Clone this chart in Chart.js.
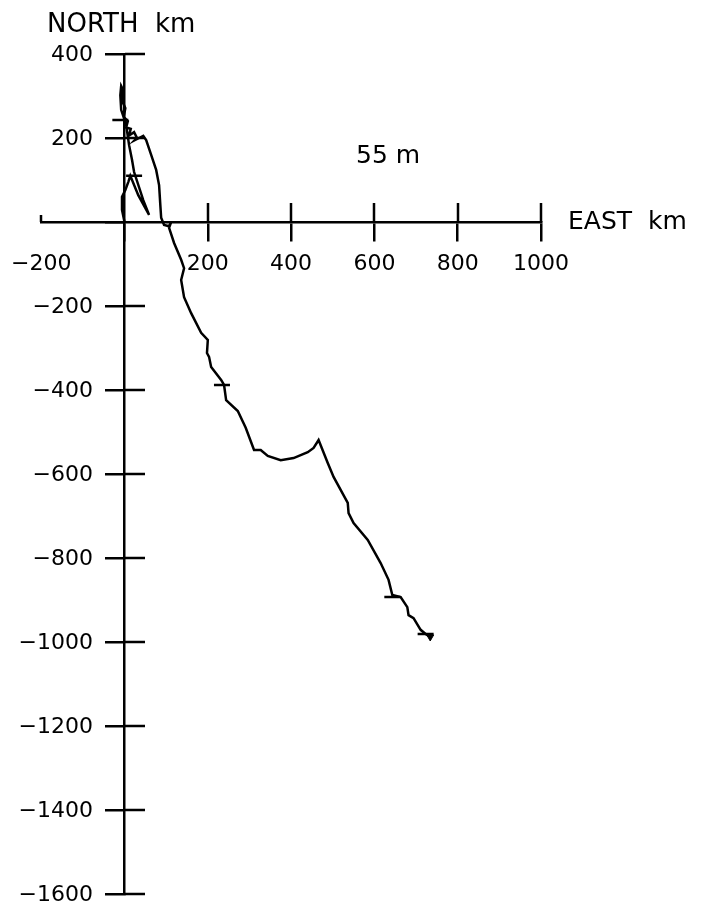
<!DOCTYPE html>
<html>
<head>
<meta charset="utf-8">
<script src="https://cdn.jsdelivr.net/npm/chart.js@4/dist/chart.umd.min.js"></script>
<style>
  html, body { margin: 0; padding: 0; background: #fff; }
  canvas { display: block; }
</style>
</head>
<body>
<canvas id="pvd" width="701" height="910"></canvas>
<script>
// progressive vector track, km from the start point
const eastKm = [
    0, -6, -6, 2, 9, 14, 33, 59, 45, 23, 18, 11, 4, -8, -10, -8, -3, -6, 2, -2,
    8, 4, 15, 11, 23, 30, 25, 35, 45, 52, 64, 76, 83, 86, 88, 95, 107, 112, 107, 119,
    136, 143, 136, 143, 160, 184, 200, 198, 203, 208, 232, 239, 244, 272, 291, 311, 327, 344, 375, 406,
    423, 440, 454, 466, 488, 502, 536, 538, 550, 584, 615, 634, 643, 663, 679, 682, 694, 711, 723, 734
];
const northKm = [
    0, 29, 60, 76, 95, 110, 64, 17, 52, 119, 148, 183, 231, 267, 302, 324, 314, 290, 271, 250,
    240, 225, 222, 206, 214, 200, 195, 200, 205, 195, 160, 124, 88, 40, 10, -7, -10, 0, -14, -50,
    -90, -110, -138, -179, -217, -264, -281, -312, -321, -345, -376, -388, -424, -450, -490, -543, -543, -557, -567, -562,
    -555, -548, -538, -519, -574, -607, -669, -693, -717, -757, -812, -852, -888, -893, -917, -936, -943, -971, -981, -988
];

// short cross marks along the track
const markEast = [-10, 23, 234, 643, 723];
const markNorth = [243, 110, -388, -893, -981];

const xTicks = [-200, 0, 200, 400, 600, 800, 1000];
const yTicks = [400, 200, 0, -200, -400, -600, -800, -1000, -1200, -1400, -1600];

const depthLabel = '55 m';

function toPoints(xs, ys) {
    return xs.map((x, i) => ({ x: x, y: ys[i] }));
}

function fmtTick(v) {
    if (v === 0) return '';
    return String(v).replace('-', '\u2212');
}

// other half of each tick, y tick labels and the loose texts
const crossTicks = {
    id: 'crossTicks',
    afterDraw(chart) {
        const ctx = chart.ctx;
        const xs = chart.scales.x;
        const ys = chart.scales.y;
        const ax = Math.round(xs.getPixelForValue(0));
        const ay = Math.round(ys.getPixelForValue(0));
        ctx.save();
        ctx.strokeStyle = '#000';
        ctx.lineWidth = 2.5;
        ctx.beginPath();
        for (const v of xTicks) {
            if (v === 0) continue;
            const px = Math.round(xs.getPixelForValue(v));
            const len = v === -200 ? 7 : 19;
            ctx.moveTo(px, ay);
            ctx.lineTo(px, ay - len);
        }
        for (const v of yTicks) {
            if (v === 0) continue;
            const py = Math.round(ys.getPixelForValue(v));
            ctx.moveTo(ax, py);
            ctx.lineTo(ax + 20, py);
        }
        ctx.stroke();

        ctx.fillStyle = '#000';
        ctx.font = '22px "DejaVu Sans"';
        ctx.textAlign = 'right';
        ctx.textBaseline = 'middle';
        for (const v of yTicks) {
            if (v === 0) continue;
            ctx.fillText(fmtTick(v), ax - 32, ys.getPixelForValue(v) + 1);
        }

        ctx.textAlign = 'left';
        ctx.textBaseline = 'alphabetic';
        ctx.font = '26px "DejaVu Sans"';
        ctx.fillText('NORTH  km', 47, 32);
        ctx.font = '25px "DejaVu Sans"';
        ctx.textBaseline = 'middle';
        ctx.fillText('EAST  km', xs.right + 27, ay);
        ctx.fillText(depthLabel, 356, 156);
        ctx.restore();
    }
};

const axisGrid = {
    drawOnChartArea: false,
    drawTicks: true,
    tickLength: 18,
    lineWidth: 2.5
};

const config = {
    type: 'scatter',
    data: {
        datasets: [
            {
                data: toPoints(eastKm, northKm),
                showLine: true,
                borderColor: '#000',
                borderWidth: 2.5,
                pointRadius: 0,
                tension: 0
            },
            {
                data: toPoints(markEast, markNorth),
                showLine: false,
                pointStyle: 'line',
                pointRadius: 8,
                borderColor: '#000',
                borderWidth: 2.5
            },
            {
                data: toPoints(eastKm.slice(-1), northKm.slice(-1)),
                showLine: false,
                pointStyle: 'triangle',
                rotation: 180,
                pointRadius: 4,
                backgroundColor: '#000',
                borderColor: '#000'
            }
        ]
    },
    options: {
        responsive: false,
        animation: false,
        layout: {
            padding: { left: 40, right: 160, top: 54, bottom: 16 }
        },
        plugins: {
            legend: { display: false },
            tooltip: { enabled: false }
        },
        scales: {
            x: {
                type: 'linear',
                position: { y: 0 },
                min: -200,
                max: 1000,
                afterBuildTicks: (s) => { s.ticks = xTicks.map(v => ({ value: v })); },
                grid: Object.assign({}, axisGrid, {
                    color: (c) => (c.tick && c.tick.value === -200 ? 'rgba(0,0,0,0)' : '#000')
                }),
                border: { display: true, color: '#000', width: 2.5 },
                ticks: {
                    color: '#000',
                    font: { family: 'DejaVu Sans', size: 22 },
                    padding: 11,
                    maxRotation: 0,
                    autoSkip: false,
                    callback: fmtTick
                }
            },
            y: {
                type: 'linear',
                position: { x: 0 },
                min: -1600,
                max: 400,
                afterBuildTicks: (s) => { s.ticks = yTicks.map(v => ({ value: v })); },
                grid: Object.assign({}, axisGrid, { color: '#000' }),
                border: { display: true, color: '#000', width: 2.5 },
                ticks: { display: false }
            }
        }
    },
    plugins: [crossTicks]
};

new Chart(document.getElementById('pvd'), config);
</script>
</body>
</html>
